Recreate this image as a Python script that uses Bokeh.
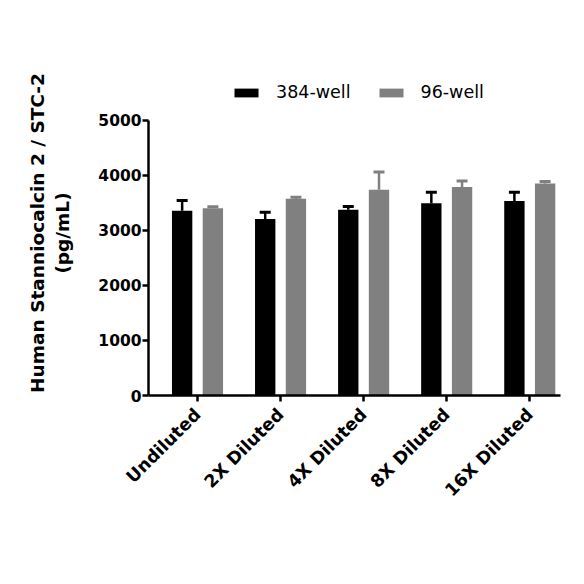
from bokeh.plotting import figure
from bokeh.models import (ColumnDataSource, Range1d, FixedTicker, Legend, LegendItem,
                          Whisker, TeeHead)
from bokeh.transform import dodge
from bokeh.embed import file_html
from bokeh.resources import INLINE

categories = ["Undiluted", "2X Diluted", "4X Diluted", "8X Diluted", "16X Diluted"]
well384 = [3360, 3210, 3375, 3495, 3535]
well384_err = [185, 120, 60, 200, 160]
well96 = [3405, 3575, 3740, 3790, 3855]
well96_err = [25, 30, 325, 110, 35]
y_ticks = [0, 1000, 2000, 3000, 4000, 5000]

FONT = "DejaVu Sans"
BLACK = "#000000"
GRAY = "#808080"

idx = list(range(len(categories)))
src = ColumnDataSource(dict(
    x=idx,
    a=well384, a_up=[v + e for v, e in zip(well384, well384_err)],
    b=well96, b_up=[v + e for v, e in zip(well96, well96_err)],
))

# frame extends above 5000 to host the legend; axis line bounded at 0..5000
p = figure(width=568, height=568, x_range=Range1d(-0.59, 4.37), y_range=Range1d(0, 5909),
           output_backend="svg", toolbar_location=None,
           min_border_left=148, min_border_right=8, min_border_top=70, min_border_bottom=173)
p.outline_line_color = None
p.xgrid.visible = False
p.ygrid.visible = False
p.background_fill_color = "white"

off = 0.185
bw = 0.245
r1 = p.vbar(x=dodge("x", -off), top="a", width=bw, source=src, fill_color=BLACK, line_color=None)
r2 = p.vbar(x=dodge("x", off), top="b", width=bw, source=src, fill_color=GRAY, line_color=None)

w1 = Whisker(base=dodge("x", -off), lower="a", upper="a_up", source=src, dimension="height",
             line_color=BLACK, line_width=2.5,
             upper_head=TeeHead(size=11, line_color=BLACK, line_width=3), lower_head=None)
w2 = Whisker(base=dodge("x", off), lower="b", upper="b_up", source=src, dimension="height",
             line_color=GRAY, line_width=2.5,
             upper_head=TeeHead(size=11, line_color=GRAY, line_width=3), lower_head=None)
p.add_layout(w1)
p.add_layout(w2)

# axes
p.yaxis.ticker = FixedTicker(ticks=y_ticks)
p.yaxis.bounds = (0, 5000)
p.xaxis.ticker = FixedTicker(ticks=idx)
p.xaxis.major_label_overrides = {i: c for i, c in enumerate(categories)}
p.xaxis.major_label_orientation = 0.7854
for ax in (p.xaxis, p.yaxis):
    ax.axis_line_width = 2.5
    ax.axis_line_color = "black"
    ax.major_tick_line_width = 2.5
    ax.major_tick_line_color = "black"
    ax.major_tick_in = 0
    ax.major_tick_out = 6
    ax.minor_tick_line_color = None
    ax.major_label_text_font = FONT
    ax.major_label_text_font_style = "bold"
    ax.major_label_text_color = "black"
p.yaxis.major_label_text_font_size = "15.5px"
p.xaxis.major_label_text_font_size = "17.5px"
p.yaxis.major_label_standoff = 1
p.xaxis.major_label_standoff = 10

p.yaxis.axis_label = "Human Stanniocalcin 2 / STC-2\n(pg/mL)"
p.yaxis.axis_label_text_font = FONT
p.yaxis.axis_label_text_font_style = "bold"
p.yaxis.axis_label_text_font_size = "18.5px"
p.yaxis.axis_label_text_color = "black"
p.yaxis.axis_label_standoff = 22

legend = Legend(items=[LegendItem(label="384-well", renderers=[r1]),
                       LegendItem(label="96-well", renderers=[r2])],
                orientation="horizontal", location=(83, 293))
legend.label_text_font = FONT
legend.label_text_font_size = "17.5px"
legend.label_text_color = "black"
legend.glyph_width = 30
legend.glyph_height = 11
legend.label_standoff = 15
legend.spacing = 25
legend.border_line_color = None
legend.background_fill_alpha = 0
legend.padding = 0
legend.margin = 0
p.add_layout(legend, "center")

open("out.html", "w").write(file_html(p, INLINE))
